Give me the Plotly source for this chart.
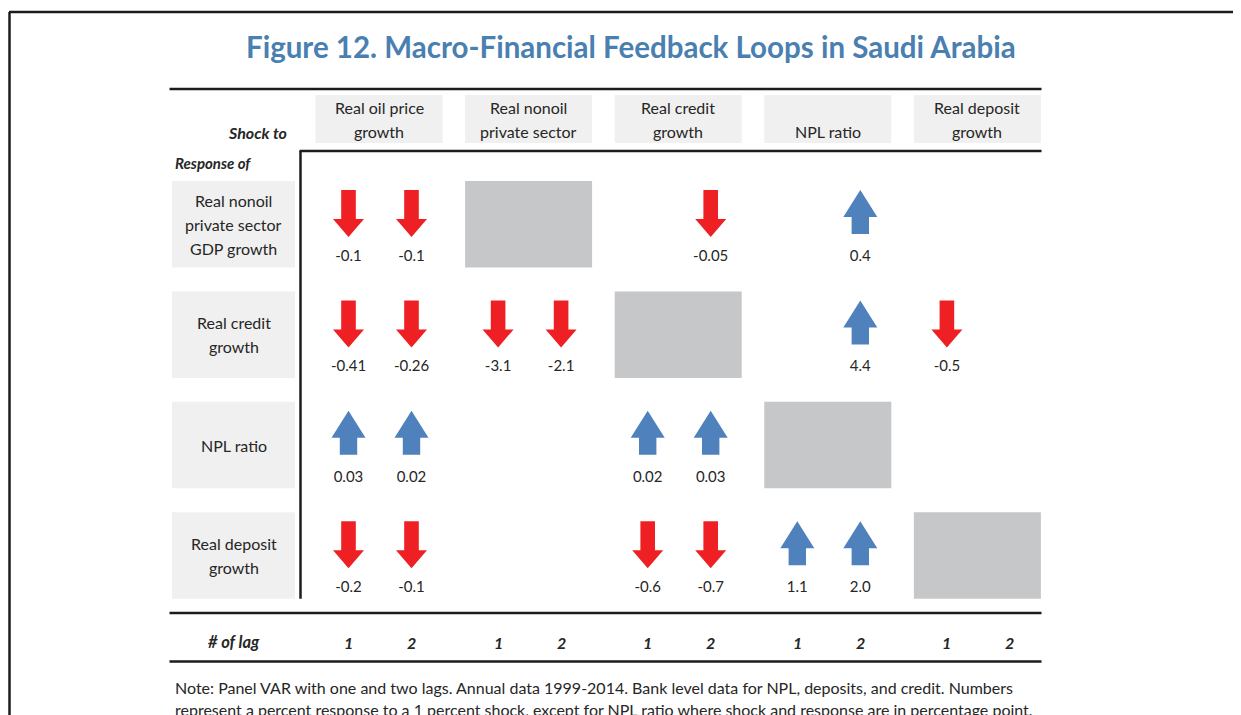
import plotly.graph_objects as go

# ---- data -------------------------------------------------------------
TITLE = "Figure 12. Macro-Financial Feedback Loops in Saudi Arabia"

shocks = [
    ["Real oil price", "growth"],
    ["Real nonoil", "private sector"],
    ["Real credit", "growth"],
    ["NPL ratio"],
    ["Real deposit", "growth"],
]
responses = [
    ["Real nonoil", "private sector", "GDP growth"],
    ["Real credit", "growth"],
    ["NPL ratio"],
    ["Real deposit", "growth"],
]
# column of each response's own shock (drawn as a grey block)
own_shock = [1, 2, 3, 4]
lags = ["1", "2"]

# response of row variable to column shock, [lag 1, lag 2]; None = not significant
resp_nonoil = [[-0.1, -0.1], [None, None], [None, -0.05], [None, 0.4], [None, None]]
resp_credit = [[-0.41, -0.26], [-3.1, -2.1], [None, None], [None, 4.4], [-0.5, None]]
resp_npl = [[0.03, 0.02], [None, None], [0.02, 0.03], [None, None], [None, None]]
resp_deposit = [[-0.2, -0.1], [None, None], [-0.6, -0.7], [1.1, 2.0], [None, None]]
values = [resp_nonoil, resp_credit, resp_npl, resp_deposit]

NOTE = [
    "Note: Panel VAR with one and two lags. Annual data 1999-2014. Bank level data for NPL, deposits, and credit. Numbers",
    "represent a percent response to a 1 percent shock, except for NPL ratio where shock and response are in percentage point.",
]

# ---- layout / style ---------------------------------------------------
W, H = 1241, 715
PAGE_OFF = 8  # default body margin of the html page
FONT = "Lato"
INK = "#262626"
RULE = "#1c1c1c"
TITLE_BLUE = "#4a7fb1"
LABEL_BG = "#f0f0f0"
BLOCK_GREY = "#c6c7c9"
UP_BLUE = "#4f81bd"
DOWN_RED = "#ee2024"

COL_X0, COL_PITCH, COL_W = 315.5, 149.6, 127
LAG_DX = [33, 96]
ROW_Y0, ROW_PITCH, ROW_H = 181, 110.4, 86.5
LAB_X0, LAB_X1 = 172, 295
TABLE_X0, TABLE_X1 = 169.5, 1041.5
VLINE_X = 300.5


def col_left(j):
    return COL_X0 + j * COL_PITCH


def row_top(i):
    return ROW_Y0 + i * ROW_PITCH


def arrow_poly(cx, top, up):
    if up:
        hh, sh = 17, 8.7
        ys = [top + 9, top + 36, top + 36, top + 53, top + 53, top + 36, top + 36, top + 9]
        xs = [cx, cx + hh, cx + sh, cx + sh, cx - sh, cx - sh, cx - hh, cx]
    else:
        hh, sh = 15.5, 7.3
        ys = [top + 56, top + 38, top + 38, top + 9, top + 9, top + 38, top + 38, top + 56]
        xs = [cx, cx + hh, cx + sh, cx + sh, cx - sh, cx - sh, cx - hh, cx]
    return xs, ys


fig = go.Figure()
shapes = []


def rect(x0, y0, x1, y1, color):
    shapes.append(dict(type="rect", x0=x0, y0=y0, x1=x1, y1=y1,
                       fillcolor=color, line=dict(width=0), layer="below"))


def hline(y, x0, x1, w=2.5):
    shapes.append(dict(type="line", x0=x0, x1=x1, y0=y, y1=y,
                       line=dict(color=RULE, width=w)))


def vline(x, y0, y1, w=2.5):
    shapes.append(dict(type="line", x0=x, x1=x, y0=y0, y1=y1,
                       line=dict(color=RULE, width=w)))


def text(x, y, s, size=16, color=INK, bold=False, italic=False, anchor="center"):
    if bold:
        s = f"<b>{s}</b>"
    if italic:
        s = f"<i>{s}</i>"
    fig.add_annotation(x=x, y=y, text=s, showarrow=False, xanchor=anchor,
                       yanchor="middle", font=dict(family=FONT, size=size, color=color))


# frame and rules
hline(12, 9, W + PAGE_OFF, 2.5)
vline(9.5, 12, H + PAGE_OFF, 2.5)
hline(89, TABLE_X0, TABLE_X1)
hline(151, VLINE_X - 1, TABLE_X1)
vline(VLINE_X, 151, row_top(3) + ROW_H)
hline(613, TABLE_X0, TABLE_X1)
hline(661.5, TABLE_X0, TABLE_X1)

text(631, 46, TITLE, size=29.5, color=TITLE_BLUE, bold=True)
text(289, 132, "Shock to", size=16, bold=True, italic=True, anchor="right")
text(173, 163, "Response of", size=15, bold=True, italic=True, anchor="left")

# column headers (bottom aligned)
for j, lines in enumerate(shocks):
    x0 = col_left(j)
    rect(x0, 95, x0 + COL_W, 143, LABEL_BG)
    for k, line in enumerate(reversed(lines)):
        text(x0 + COL_W / 2, 131.5 - 24.5 * k, line)

# row labels
for i, lines in enumerate(responses):
    top = row_top(i)
    rect(LAB_X0, top, LAB_X1, top + ROW_H, LABEL_BG)
    mid = top + ROW_H / 2
    n = len(lines)
    for k, line in enumerate(lines):
        text((LAB_X0 + LAB_X1) / 2, mid + (k - (n - 1) / 2) * 24, line)

# cells
lbl_x, lbl_y, lbl_t = [], [], []
for i, row in enumerate(values):
    top = row_top(i)
    for j, cell in enumerate(row):
        x0 = col_left(j)
        if j == own_shock[i]:
            rect(x0, top, x0 + COL_W, top + ROW_H, BLOCK_GREY)
            continue
        for k, v in enumerate(cell):
            if v is None:
                continue
            cx = x0 + LAG_DX[k]
            up = v > 0
            xs, ys = arrow_poly(cx, top, up)
            fig.add_trace(go.Scatter(
                x=xs, y=ys, mode="lines", fill="toself",
                fillcolor=UP_BLUE if up else DOWN_RED,
                line=dict(width=0), hoverinfo="skip", showlegend=False))
            lbl_x.append(cx)
            lbl_y.append(top + 76)
            lbl_t.append(str(v))

fig.add_trace(go.Scatter(
    x=lbl_x, y=lbl_y, text=lbl_t, mode="text",
    textfont=dict(family=FONT, size=15, color=INK),
    hoverinfo="skip", showlegend=False))

# lag row
text((LAB_X0 + LAB_X1) / 2, 642, "# of lag", size=16.5, bold=True, italic=True)
for j in range(len(shocks)):
    for k, lag in enumerate(lags):
        text(col_left(j) + LAG_DX[k], 642, lag, size=16, bold=True, italic=True)

# note
for k, line in enumerate(NOTE):
    text(173, 687 + 22 * k, line, size=16, anchor="left")

fig.update_layout(
    width=W, height=H,
    margin=dict(l=0, r=0, t=0, b=0),
    paper_bgcolor="white", plot_bgcolor="white",
    shapes=shapes,
    xaxis=dict(range=[PAGE_OFF, W + PAGE_OFF], visible=False, fixedrange=True),
    yaxis=dict(range=[H + PAGE_OFF, PAGE_OFF], visible=False, fixedrange=True),
    showlegend=False,
)

fig.write_html("out.html")
